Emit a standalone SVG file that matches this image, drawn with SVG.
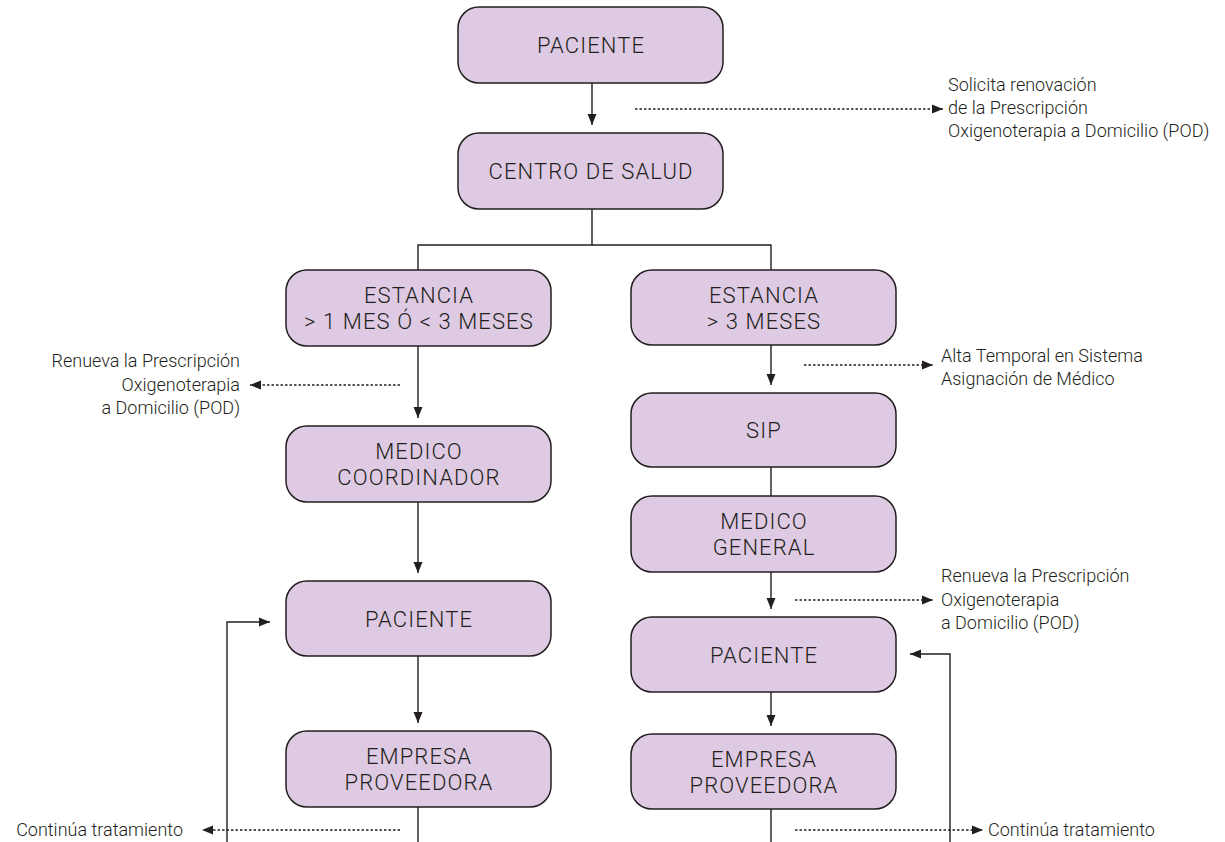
<svg xmlns="http://www.w3.org/2000/svg" width="1225" height="842" viewBox="0 0 1225 842">
<defs>
<style>
.box{fill:#dfcae3;stroke:#231f20;stroke-width:1.5}
.nt{font-family:Roboto,"Liberation Sans",sans-serif;font-weight:300;font-size:22px;letter-spacing:1.1px;fill:#231f20;text-anchor:middle}
.lb{font-family:Roboto,"Liberation Sans",sans-serif;font-weight:300;font-size:18px;fill:#231f20}
.ln{fill:none;stroke:#231f20;stroke-width:1.4}
.dt{fill:none;stroke:#231f20;stroke-width:1.3;stroke-dasharray:2.5 2}
</style>
<marker id="ah" markerUnits="userSpaceOnUse" markerWidth="11" markerHeight="10" refX="11" refY="5" orient="auto"><path d="M0,0.5 L11,5 L0,9.5 z" fill="#231f20"/></marker>
</defs>
<g id="connectors">
<line class="ln" x1="592" y1="83" x2="592" y2="125" marker-end="url(#ah)"/>
<polyline class="ln" points="592,209 592,245 418,245 418,270"/>
<polyline class="ln" points="592,245 771,245 771,270"/>
<line class="ln" x1="418" y1="346" x2="418" y2="418" marker-end="url(#ah)"/>
<line class="ln" x1="418" y1="502" x2="418" y2="573" marker-end="url(#ah)"/>
<line class="ln" x1="418" y1="656" x2="418" y2="723" marker-end="url(#ah)"/>
<line class="ln" x1="418" y1="807" x2="418" y2="842"/>
<line class="ln" x1="771" y1="345" x2="771" y2="385" marker-end="url(#ah)"/>
<line class="ln" x1="771" y1="467" x2="771" y2="496"/>
<line class="ln" x1="771" y1="572" x2="771" y2="609" marker-end="url(#ah)"/>
<line class="ln" x1="771" y1="692" x2="771" y2="726" marker-end="url(#ah)"/>
<line class="ln" x1="771" y1="809" x2="771" y2="842"/>
<polyline class="ln" points="227,842 227,622 270,622" marker-end="url(#ah)"/>
<polyline class="ln" points="950,842 950,654 910,654" marker-end="url(#ah)"/>
<line class="dt" x1="635" y1="109" x2="943" y2="109" marker-end="url(#ah)"/>
<line class="dt" x1="400" y1="385" x2="250" y2="385" marker-end="url(#ah)"/>
<line class="dt" x1="804" y1="365" x2="933" y2="365" marker-end="url(#ah)"/>
<line class="dt" x1="795" y1="600" x2="933" y2="600" marker-end="url(#ah)"/>
<line class="dt" x1="400" y1="830" x2="202" y2="830" marker-end="url(#ah)"/>
<line class="dt" x1="795" y1="830" x2="983" y2="830" marker-end="url(#ah)"/>
</g>
<g id="labels">
<text class="lb"><tspan x="948" y="91">Solicita renovación</tspan><tspan x="948" y="114">de la Prescripción</tspan><tspan x="948" y="137">Oxigenoterapia a Domicilio (POD)</tspan></text>
<text class="lb" text-anchor="end"><tspan x="240" y="367">Renueva la Prescripción</tspan><tspan x="240" y="391">Oxigenoterapia</tspan><tspan x="240" y="414">a Domicilio (POD)</tspan></text>
<text class="lb"><tspan x="941" y="362">Alta Temporal en Sistema</tspan><tspan x="941" y="385">Asignación de Médico</tspan></text>
<text class="lb"><tspan x="941" y="582">Renueva la Prescripción</tspan><tspan x="941" y="606">Oxigenoterapia</tspan><tspan x="941" y="629">a Domicilio (POD)</tspan></text>
<text class="lb" text-anchor="end" x="183" y="836">Continúa tratamiento</text>
<text class="lb" x="988" y="836">Continúa tratamiento</text>
</g>
<g id="n-paciente-top"><rect class="box" x="458" y="7" width="265" height="76" rx="21"/><text class="nt" x="591" y="53">PACIENTE</text></g>
<g id="n-centro"><rect class="box" x="458" y="133" width="265" height="76" rx="21"/><text class="nt" x="591" y="179">CENTRO DE SALUD</text></g>
<g id="n-estancia-1"><rect class="box" x="286" y="270" width="265" height="76" rx="21"/><text class="nt" x="419" y="303">ESTANCIA</text><text class="nt" x="419" y="329">&gt; 1 MES Ó &lt; 3 MESES</text></g>
<g id="n-medico-coord"><rect class="box" x="286" y="426" width="265" height="76" rx="21"/><text class="nt" x="419" y="459">MEDICO</text><text class="nt" x="419" y="485">COORDINADOR</text></g>
<g id="n-paciente-left"><rect class="box" x="286" y="581" width="265" height="75" rx="21"/><text class="nt" x="419" y="627">PACIENTE</text></g>
<g id="n-empresa-left"><rect class="box" x="286" y="731" width="265" height="76" rx="21"/><text class="nt" x="419" y="764">EMPRESA</text><text class="nt" x="419" y="790">PROVEEDORA</text></g>
<g id="n-estancia-3"><rect class="box" x="631" y="270" width="265" height="75" rx="21"/><text class="nt" x="764" y="303">ESTANCIA</text><text class="nt" x="764" y="329">&gt; 3 MESES</text></g>
<g id="n-sip"><rect class="box" x="631" y="393" width="265" height="74" rx="21"/><text class="nt" x="764" y="438">SIP</text></g>
<g id="n-medico-general"><rect class="box" x="631" y="496" width="265" height="76" rx="21"/><text class="nt" x="764" y="529">MEDICO</text><text class="nt" x="764" y="555">GENERAL</text></g>
<g id="n-paciente-right"><rect class="box" x="631" y="617" width="265" height="75" rx="21"/><text class="nt" x="764" y="663">PACIENTE</text></g>
<g id="n-empresa-right"><rect class="box" x="631" y="734" width="265" height="75" rx="21"/><text class="nt" x="764" y="767">EMPRESA</text><text class="nt" x="764" y="793">PROVEEDORA</text></g>
</svg>
